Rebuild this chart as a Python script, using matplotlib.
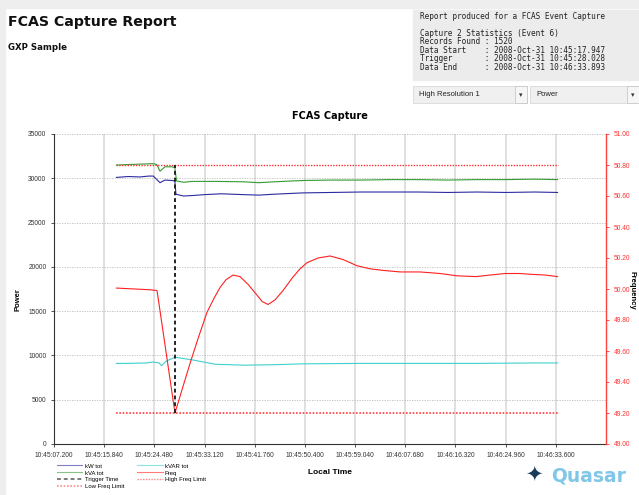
import matplotlib.pyplot as plt
from matplotlib.patches import Rectangle

# seconds after 10:45:00
freq_t = [17.947, 21.15, 23.73, 24.94, 28.028, 30.62, 32.00, 33.55, 34.75, 35.79,
          36.82, 38.03, 39.23, 40.61, 42.16, 43.02, 44.05, 45.26, 46.64, 48.19,
          49.56, 50.77, 52.66, 54.73, 56.97, 59.38, 61.62, 63.86, 66.79, 70.23,
          73.67, 76.60, 79.87, 82.28, 84.87, 87.45, 89.17, 91.76, 93.893]
freq_v = [50.006, 50.00, 49.995, 49.99, 49.20, 49.52, 49.68, 49.85, 49.94, 50.01,
          50.06, 50.09, 50.08, 50.03, 49.96, 49.92, 49.90, 49.93, 49.99, 50.07,
          50.13, 50.17, 50.20, 50.213, 50.19, 50.15, 50.13, 50.12, 50.11, 50.11,
          50.10, 50.085, 50.08, 50.09, 50.10, 50.10, 50.095, 50.09, 50.08]

kw_t = [17.947, 20, 22, 23.5, 24.3, 25.45, 26.3, 27.5, 28.0, 28.2, 29.5, 31, 33, 36,
        40, 42.5, 45, 50, 55, 60, 65, 70, 75, 80, 85, 90, 93.893]
kw_v = [30100, 30200, 30150, 30250, 30250, 29500, 29800, 29750, 29700, 28200, 28000,
        28050, 28150, 28250, 28150, 28100, 28200, 28350, 28400, 28450, 28450, 28450,
        28400, 28450, 28400, 28450, 28400]

kva_t = [17.947, 20, 22, 24.25, 24.9, 25.45, 26.3, 27.5, 28.0, 28.3, 29.5, 31, 35, 40,
         42.5, 45, 50, 55, 60, 65, 70, 75, 80, 85, 90, 93.893]
kva_v = [31500, 31550, 31600, 31650, 31550, 30800, 31300, 31300, 31200, 29700, 29550,
         29650, 29650, 29600, 29500, 29600, 29750, 29800, 29800, 29850, 29850, 29800,
         29850, 29850, 29900, 29850]

kvar_t = [17.947, 20, 23, 24.3, 25.3, 25.7, 26.5, 28.028, 29.5, 31, 33, 35, 40, 45, 50,
          60, 70, 80, 90, 93.893]
kvar_v = [9100, 9100, 9150, 9250, 9150, 8850, 9350, 9800, 9650, 9500, 9250, 9000, 8900,
          8950, 9050, 9100, 9100, 9100, 9150, 9150]

data_start = 17.947
trigger = 28.028
data_end = 93.893
high_limit = 50.80
low_limit = 49.20

tick_pos = [7.2 + 8.64 * i for i in range(11)]
tick_lbl = ['10:45:07.200', '10:45:15.840', '10:45:24.480', '10:45:33.120', '10:45:41.760',
            '10:45:50.400', '10:45:59.040', '10:46:07.680', '10:46:16.320', '10:46:24.960',
            '10:46:33.600']

info_lines = ['Report produced for a FCAS Event Capture', '',
              'Capture 2 Statistics (Event 6)',
              'Records Found : 1520',
              'Data Start    : 2008-Oct-31 10:45:17.947',
              'Trigger       : 2008-Oct-31 10:45:28.028',
              'Data End      : 2008-Oct-31 10:46:33.893']

plt.rcParams['font.family'] = ['Liberation Sans', 'DejaVu Sans']
W, H = 639, 495
fig = plt.figure(figsize=(W / 100, H / 100), dpi=100)

def fx(px):
    return px / W

def fy(py):
    return 1 - py / H

# page decoration
fig.patches.append(Rectangle((0, fy(8)), 1, 8 / H, transform=fig.transFigure, color='#eeeeee', zorder=0))
fig.patches.append(Rectangle((0, 0), fx(5), 1, transform=fig.transFigure, color='#eeeeee', zorder=0))
fig.patches.append(Rectangle((fx(413), fy(80)), fx(226), 70 / H, transform=fig.transFigure,
                             color='#ececec', zorder=0))
fig.text(fx(8), fy(22), 'FCAS Capture Report', fontsize=10.2, fontweight='bold', va='center',
         color='#111111', family='DejaVu Sans')
fig.text(fx(8), fy(48), 'GXP Sample', fontsize=6.2, fontweight='bold', va='center', color='#111111',
         family='DejaVu Sans')
fig.text(fx(420), fy(12), '\n'.join(info_lines), fontsize=5.6, family='DejaVu Sans Mono', va='top',
         color='#222222', linespacing=0.92)

# dropdowns
for x0, w, label in [(413, 114, 'High Resolution 1'), (530, 109, 'Power')]:
    fig.patches.append(Rectangle((fx(x0), fy(103)), w / W, 17 / H, transform=fig.transFigure,
                                 facecolor='#f0f0f0', edgecolor='#d8d8d8', lw=0.6, zorder=0))
    fig.patches.append(Rectangle((fx(x0 + w - 12), fy(103)), 12 / W, 17 / H, transform=fig.transFigure,
                                 facecolor='#f6f6f6', edgecolor='#c8c8c8', lw=0.6, zorder=0))
    fig.text(fx(x0 + 6), fy(94), label, fontsize=5.5, va='center', color='#222222')
    fig.text(fx(x0 + w - 6), fy(96), '\u25be', fontsize=5, va='center', ha='center', color='#333333')

ax = fig.add_axes([fx(54), fy(444), (606 - 54) / W, (444 - 134) / H])
ax2 = ax.twinx()

ax.set_xlim(7.2, 7.2 + 8.64 * 11)
ax.set_ylim(0, 35000)
ax.set_yticks(range(0, 35001, 5000))
ax.set_xticks(tick_pos)
ax.set_xticklabels(tick_lbl)
ax.tick_params(labelsize=4.8, colors='#333333', length=2, width=0.6)
ax.grid(axis='x', color='#dddddd', lw=1.3, ls='-')
ax.grid(axis='y', color='#bbbbbb', lw=0.6, ls=(0, (1.5, 1.5)))
ax.set_axisbelow(True)
for s in ['top', 'right']:
    ax.spines[s].set_visible(False)
ax.spines['left'].set_color('#333333')
ax.spines['bottom'].set_color('#333333')
ax.spines['left'].set_linewidth(0.8)
ax.spines['bottom'].set_linewidth(0.8)

l_kw, = ax.plot(kw_t, kw_v, color='#2b2ba0', lw=0.8, label='kW tot')
l_kvar, = ax.plot(kvar_t, kvar_v, color='#3fcfcf', lw=0.8, label='kVAR tot')
l_kva, = ax.plot(kva_t, kva_v, color='#359a35', lw=0.8, label='kVA tot')

ax2.set_ylim(49.0, 51.0)
ax2.set_yticks([49.0 + 0.2 * i for i in range(11)])
ax2.set_yticklabels(['%.2f' % (49.0 + 0.2 * i) for i in range(11)])
ax2.tick_params(labelsize=4.8, colors='#ff3030', length=2, width=0.6)
for s in ['top', 'left', 'bottom']:
    ax2.spines[s].set_visible(False)
ax2.spines['right'].set_color('#ff4040')
ax2.spines['right'].set_linewidth(1.0)

l_freq, = ax2.plot(freq_t, freq_v, color='#ff2020', lw=0.8, label='Freq')
l_hi, = ax2.plot([data_start, data_end], [high_limit, high_limit], color='#ff3030', lw=1.0,
                 ls=(0, (1, 1)), label='High Freq Limit')
l_lo, = ax2.plot([data_start, data_end], [low_limit, low_limit], color='#ff4040', lw=1.2,
                 ls=(0, (1, 1)), label='Low Freq Limit')
l_trig, = ax2.plot([trigger, trigger], [low_limit, high_limit], color='#222222', lw=1.4,
                   ls=(0, (2, 1.5)), label='Trigger Time')

ax.set_title('FCAS Capture', fontsize=7, fontweight='bold', pad=11, family='DejaVu Sans')
fig.text(fx(18), fy(300), 'Power', rotation=90, fontsize=5.5, fontweight='bold', ha='center', va='center')
fig.text(fx(632), fy(290), 'Frequency', rotation=270, fontsize=5.5, fontweight='bold', ha='center', va='center')
fig.text(fx(330), fy(472), 'Local Time', fontsize=6, fontweight='bold', ha='center', va='center')

handles = [l_kw, l_kva, l_trig, l_lo, l_kvar, l_freq, l_hi]
leg = fig.legend(handles=handles, loc='upper left', bbox_to_anchor=(fx(52), fy(458)), ncol=2,
                 fontsize=4.3, frameon=False, handlelength=4.2, handletextpad=0.4, labelspacing=0.3,
                 columnspacing=2.2)
for h in leg.legend_handles:
    h.set_alpha(0.6)

# logo
fig.text(fx(589), fy(476), 'Quasar', fontsize=13.5, fontweight='bold', color='#7fc6e8', ha='center',
         va='center', family='DejaVu Sans')
fig.text(fx(534), fy(475), '\u2726', fontsize=15, color='#1a3a5a', ha='center', va='center',
         family='DejaVu Sans')

fig.savefig('out.png', dpi=100)
